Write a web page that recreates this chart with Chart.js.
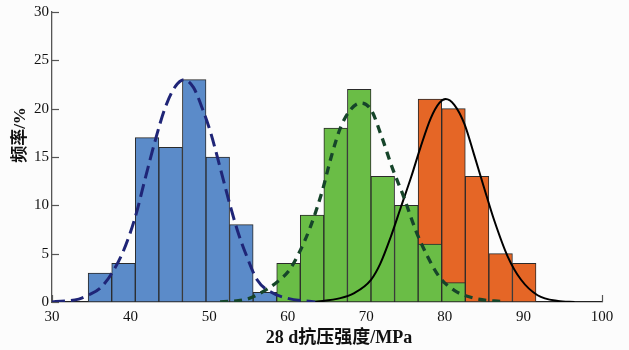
<!DOCTYPE html>
<html>
<head>
<meta charset="utf-8">
<script src="https://cdn.jsdelivr.net/npm/chart.js@4/dist/chart.umd.min.js"></script>
<style>
  html, body { margin: 0; padding: 0; background: #fcfcfc; }
  #wrap { width: 629px; height: 350px; position: relative; }
</style>
</head>
<body>
<div id="wrap"><canvas id="c" width="629" height="350"></canvas></div>
<script>
// ---- data ----
const xTicks = [30, 40, 50, 60, 70, 80, 90, 100];
const yTicks = [0, 5, 10, 15, 20, 25, 30];

const blueCenters = [36.1, 39.1, 42.1, 45.1, 48.1, 51.1, 54.1, 57.1];
const blueFreq    = [3, 4, 17, 16, 23, 15, 8, 1];

const greenCenters = [60.1, 63.1, 66.1, 69.1, 72.1, 75.1, 78.1, 81.1];
const greenFreq    = [4, 9, 18, 22, 13, 10, 6, 2];

const orangeCenters = [78.1, 81.1, 84.1, 87.1, 90.1];
const orangeFreq    = [21, 20, 13, 5, 4];

const blueCurveX = [30, 33.4, 34.6, 36.1, 37.6, 39.1, 40.6, 41.9, 43.1, 44.4, 45.7, 46.8, 48.0, 49.1, 50.2, 51.4, 52.5, 53.6, 54.8, 56.1, 57.8, 59.9, 63.5];
const blueCurveY = [0, 0.3, 0.7, 1.4, 2.95, 5.3, 8.8, 12.9, 16.6, 20.1, 22.3, 23.0, 22.2, 20.1, 17.5, 13.9, 10.5, 7.4, 4.7, 2.3, 1.05, 0.4, 0];

const greenCurveX = [51.4, 54.8, 56.5, 58.7, 60.2, 61.4, 62.9, 64.4, 65.5, 66.7, 68.0, 69.3, 70.6, 72.0, 73.3, 74.8, 76.3, 77.8, 79.3, 81.2, 83.7, 87.6];
const greenCurveY = [0, 0.3, 0.9, 2.1, 3.3, 5.0, 7.8, 11.5, 14.9, 18.0, 19.9, 20.6, 19.9, 17.0, 13.9, 10.8, 7.4, 4.7, 2.6, 1.2, 0.4, 0];

const blackCurveX = [63.3, 66.7, 68.4, 70.6, 71.8, 73.1, 74.4, 75.7, 76.9, 78.2, 79.3, 80.1, 81.2, 82.5, 83.7, 85.0, 86.3, 88.0, 89.7, 91.8, 94.4, 96.5];
const blackCurveY = [0, 0.4, 0.9, 2.3, 4.0, 6.7, 9.8, 12.9, 16.0, 19.0, 20.6, 21.0, 20.4, 18.4, 15.3, 11.8, 8.4, 4.7, 2.3, 0.7, 0.1, 0];

const xTitle = '28 d抗压强度/MPa';
const yTitle = '频率/%';

// ---- helpers ----
const pts = (xs, ys) => xs.map((x, i) => ({ x: x, y: ys[i] }));

const barStyle = { borderColor: '#2a2a2a', borderWidth: 1, barPercentage: 1, categoryPercentage: 1, grouped: false, borderSkipped: false };

const tickMarks = {
  id: 'tickMarks',
  beforeDatasetsDraw(chart) {
    const { ctx, scales: { x, y } } = chart;
    ctx.save();
    ctx.strokeStyle = '#555';
    ctx.lineWidth = 1.2;
    yTicks.forEach(v => {
      const py = Math.round(y.getPixelForValue(v)) + 0.5;
      ctx.beginPath(); ctx.moveTo(x.left, py); ctx.lineTo(x.left + 7, py); ctx.stroke();
    });
    xTicks.forEach(v => {
      const px = Math.round(x.getPixelForValue(v)) + 0.5;
      ctx.beginPath(); ctx.moveTo(px, y.bottom); ctx.lineTo(px, y.bottom - 7); ctx.stroke();
    });
    ctx.restore();
  },
  afterDraw(chart) {
    const { ctx } = chart;
    ctx.save();
    ctx.fillStyle = '#111';
    ctx.textAlign = 'center';
    ctx.textBaseline = 'middle';
    ctx.font = 'bold 18px "Liberation Serif", "Noto Sans CJK SC", serif';
    ctx.fillText(xTitle, 339, 338);
    ctx.font = 'bold 17px "Liberation Serif", "Noto Sans CJK SC", serif';
    ctx.translate(21, 135);
    ctx.rotate(-Math.PI / 2);
    ctx.fillText(yTitle, 0, 0);
    ctx.restore();
  }
};

const bgPlugin = {
  id: 'bg',
  beforeDraw(chart) {
    const { ctx } = chart;
    ctx.save();
    ctx.fillStyle = '#fcfcfc';
    ctx.fillRect(0, 0, chart.width, chart.height);
    ctx.restore();
  }
};

new Chart(document.getElementById('c'), {
  type: 'bar',
  data: {
    datasets: [
      { type: 'line', data: pts(blueCurveX, blueCurveY), borderColor: '#1f2577', borderWidth: 3, borderDash: [13, 6], pointRadius: 0, fill: false, cubicInterpolationMode: 'monotone', order: 0 },
      { type: 'line', data: pts(greenCurveX, greenCurveY), borderColor: '#16452a', borderWidth: 3.3, borderDash: [8, 6], pointRadius: 0, fill: false, cubicInterpolationMode: 'monotone', order: 0 },
      { type: 'line', data: pts(blackCurveX, blackCurveY), borderColor: '#000', borderWidth: 2, pointRadius: 0, fill: false, cubicInterpolationMode: 'monotone', order: 0 },
      Object.assign({ data: pts(greenCenters, greenFreq), backgroundColor: '#6abd46', order: 1 }, barStyle),
      Object.assign({ data: pts(orangeCenters, orangeFreq), backgroundColor: '#e56626', order: 2 }, barStyle),
      Object.assign({ data: pts(blueCenters, blueFreq), backgroundColor: '#5b8bc9', order: 3 }, barStyle)
    ]
  },
  options: {
    responsive: false,
    animation: false,
    events: [],
    layout: { padding: { left: 0, right: 27, top: 11, bottom: 0 } },
    plugins: { legend: { display: false }, tooltip: { enabled: false } },
    scales: {
      x: {
        type: 'linear', min: 30, max: 100, offset: false,
        afterBuildTicks: s => { s.ticks = xTicks.map(v => ({ value: v })); },
        afterFit: s => { s.height = 48; },
        grid: { display: false, drawTicks: false },
        border: { display: true, color: '#222', width: 1.3 },
        ticks: { padding: 6, color: '#111', maxRotation: 0, font: { family: '"Liberation Serif", serif', size: 15 } }
      },
      y: {
        min: 0, max: 30,
        afterBuildTicks: s => { s.ticks = yTicks.map(v => ({ value: v })); },
        afterFit: s => { s.width = 52; },
        grid: { display: false, drawTicks: false },
        border: { display: true, color: '#555', width: 1.3 },
        ticks: { padding: 3, color: '#111', font: { family: '"Liberation Serif", serif', size: 15 } }
      }
    }
  },
  plugins: [bgPlugin, tickMarks]
});
</script>
</body>
</html>
